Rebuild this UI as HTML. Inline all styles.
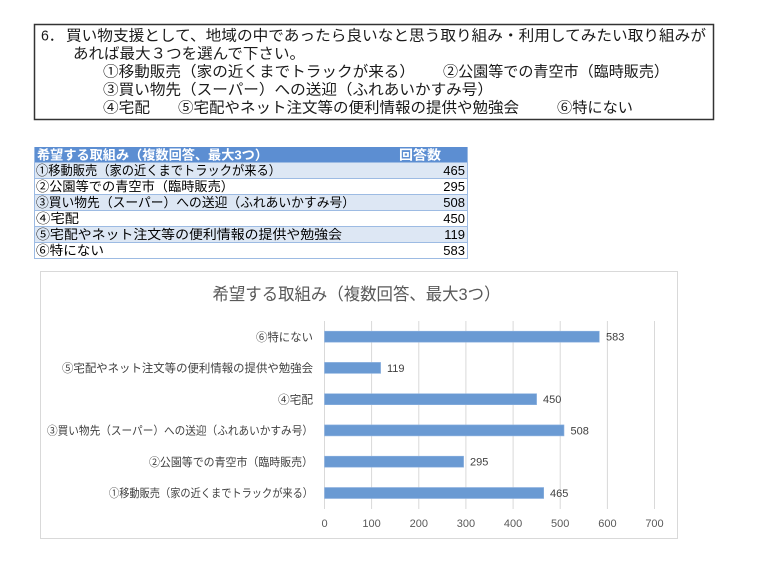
<!DOCTYPE html>
<html>
<head>
<meta charset="utf-8">
<style>
  html,body{margin:0;padding:0;background:#fff;}
  svg{display:block;}
  text{font-family:"Liberation Sans","Noto Sans CJK JP",sans-serif;}
</style>
</head>
<body>
<svg width="770" height="584" viewBox="0 0 770 584" xmlns="http://www.w3.org/2000/svg">
  <rect x="0" y="0" width="770" height="584" fill="#fff"/>

  <!-- Question box -->
  <rect x="34.5" y="24.5" width="679" height="95" fill="#fff" stroke="#333" stroke-width="1.5"/>
  <g font-size="15" fill="#1a1a1a">
    <text x="41" y="40.5" textLength="22" lengthAdjust="spacingAndGlyphs">6．</text>
    <text x="66" y="40.5" textLength="640" lengthAdjust="spacingAndGlyphs">買い物支援として、地域の中であったら良いなと思う取り組み・利用してみたい取り組みが</text>
    <text x="73" y="58.5" textLength="232" lengthAdjust="spacingAndGlyphs">あれば最大３つを選んで下さい。</text>
    <text x="103" y="76.5" textLength="312" lengthAdjust="spacingAndGlyphs">①移動販売（家の近くまでトラックが来る）</text>
    <text x="443" y="76.5" textLength="226" lengthAdjust="spacingAndGlyphs">②公園等での青空市（臨時販売）</text>
    <text x="103" y="94.5" textLength="390" lengthAdjust="spacingAndGlyphs">③買い物先（スーパー）への送迎（ふれあいかすみ号）</text>
    <text x="103" y="112.5" textLength="47" lengthAdjust="spacingAndGlyphs">④宅配</text>
    <text x="178" y="112.5" textLength="341" lengthAdjust="spacingAndGlyphs">⑤宅配やネット注文等の便利情報の提供や勉強会</text>
    <text x="557" y="112.5" textLength="76" lengthAdjust="spacingAndGlyphs">⑥特にない</text>
  </g>

  <!-- Table -->
  <rect x="34" y="147" width="434" height="15" fill="#5c8ed2"/>
  <rect x="34" y="162" width="434" height="16" fill="#dde7f4"/>
  <rect x="34" y="178" width="434" height="16" fill="#ffffff"/>
  <rect x="34" y="194" width="434" height="16" fill="#dde7f4"/>
  <rect x="34" y="210" width="434" height="16" fill="#ffffff"/>
  <rect x="34" y="226" width="434" height="16" fill="#dde7f4"/>
  <rect x="34" y="242" width="434" height="16" fill="#ffffff"/>
  <g stroke="#9dbbe3" stroke-width="1">
    <line x1="34" y1="162.5" x2="468" y2="162.5"/>
    <line x1="34" y1="178.5" x2="468" y2="178.5"/>
    <line x1="34" y1="194.5" x2="468" y2="194.5"/>
    <line x1="34" y1="210.5" x2="468" y2="210.5"/>
    <line x1="34" y1="226.5" x2="468" y2="226.5"/>
    <line x1="34" y1="242.5" x2="468" y2="242.5"/>
    <line x1="34" y1="258.5" x2="468" y2="258.5"/>
    <line x1="34.5" y1="147" x2="34.5" y2="258"/>
    <line x1="467.5" y1="147" x2="467.5" y2="258"/>
  </g>
  <g font-size="13" font-weight="bold" fill="#ffffff">
    <text x="37" y="159.5" textLength="231" lengthAdjust="spacingAndGlyphs">希望する取組み（複数回答、最大3つ）</text>
    <text x="399" y="159.5" textLength="42" lengthAdjust="spacingAndGlyphs">回答数</text>
  </g>
  <g font-size="13" fill="#000">
    <text x="36" y="175" textLength="245" lengthAdjust="spacingAndGlyphs">①移動販売（家の近くまでトラックが来る）</text>
    <text x="36" y="191" textLength="198" lengthAdjust="spacingAndGlyphs">②公園等での青空市（臨時販売）</text>
    <text x="36" y="207" textLength="319" lengthAdjust="spacingAndGlyphs">③買い物先（スーパー）への送迎（ふれあいかすみ号）</text>
    <text x="36" y="223" textLength="43" lengthAdjust="spacingAndGlyphs">④宅配</text>
    <text x="36" y="239" textLength="306" lengthAdjust="spacingAndGlyphs">⑤宅配やネット注文等の便利情報の提供や勉強会</text>
    <text x="36" y="255" textLength="68" lengthAdjust="spacingAndGlyphs">⑥特にない</text>
  </g>
  <g font-size="13" fill="#000" text-anchor="end">
    <text x="465" y="175">465</text>
    <text x="465" y="191">295</text>
    <text x="465" y="207">508</text>
    <text x="465" y="223">450</text>
    <text x="465" y="239">119</text>
    <text x="465" y="255">583</text>
  </g>

  <!-- Chart -->
  <rect x="40.5" y="271.5" width="637" height="267" fill="#fff" stroke="#d9d9d9" stroke-width="1"/>
  <text x="356.5" y="300" font-size="17" fill="#595959" text-anchor="middle" textLength="288" lengthAdjust="spacingAndGlyphs">希望する取組み（複数回答、最大3つ）</text>

  <!-- gridlines -->
  <g stroke="#d9d9d9" stroke-width="1">
    <line x1="324.5" y1="321" x2="324.5" y2="509"/>
    <line x1="371.6" y1="321" x2="371.6" y2="509"/>
    <line x1="418.8" y1="321" x2="418.8" y2="509"/>
    <line x1="465.9" y1="321" x2="465.9" y2="509"/>
    <line x1="513.1" y1="321" x2="513.1" y2="509"/>
    <line x1="560.2" y1="321" x2="560.2" y2="509"/>
    <line x1="607.4" y1="321" x2="607.4" y2="509"/>
    <line x1="654.5" y1="321" x2="654.5" y2="509"/>
  </g>

  <!-- bars (scale 0.4714 px per unit) -->
  <g fill="#6a9ad3" stroke="#8fb3e0" stroke-width="0.6">
    <rect x="324.5" y="331.2" width="274.8" height="11"/>
    <rect x="324.5" y="362.4" width="56.1" height="11"/>
    <rect x="324.5" y="393.7" width="212.1" height="11"/>
    <rect x="324.5" y="424.9" width="239.5" height="11"/>
    <rect x="324.5" y="456.2" width="139.1" height="11"/>
    <rect x="324.5" y="487.5" width="219.2" height="11"/>
  </g>

  <!-- value labels -->
  <g font-size="11" fill="#404040">
    <text x="606" y="340.7">583</text>
    <text x="387" y="371.9">119</text>
    <text x="543" y="403.2">450</text>
    <text x="570.5" y="434.4">508</text>
    <text x="470" y="465.7">295</text>
    <text x="550" y="497">465</text>
  </g>

  <!-- category labels -->
  <g font-size="11.5" fill="#404040" text-anchor="end">
    <text x="313" y="340.8" textLength="57" lengthAdjust="spacingAndGlyphs">⑥特にない</text>
    <text x="313" y="372" textLength="251" lengthAdjust="spacingAndGlyphs">⑤宅配やネット注文等の便利情報の提供や勉強会</text>
    <text x="313" y="403.3" textLength="35" lengthAdjust="spacingAndGlyphs">④宅配</text>
    <text x="313" y="434.5" textLength="266" lengthAdjust="spacingAndGlyphs">③買い物先（スーパー）への送迎（ふれあいかすみ号）</text>
    <text x="313" y="465.8" textLength="164" lengthAdjust="spacingAndGlyphs">②公園等での青空市（臨時販売）</text>
    <text x="313" y="497.1" textLength="204" lengthAdjust="spacingAndGlyphs">①移動販売（家の近くまでトラックが来る）</text>
  </g>

  <!-- tick labels -->
  <g font-size="11" fill="#595959" text-anchor="middle">
    <text x="324.5" y="527">0</text>
    <text x="371.6" y="527">100</text>
    <text x="418.8" y="527">200</text>
    <text x="465.9" y="527">300</text>
    <text x="513.1" y="527">400</text>
    <text x="560.2" y="527">500</text>
    <text x="607.4" y="527">600</text>
    <text x="654.5" y="527">700</text>
  </g>
</svg>
</body>
</html>
